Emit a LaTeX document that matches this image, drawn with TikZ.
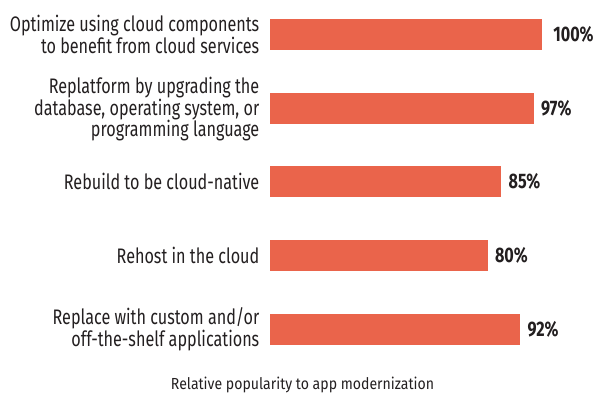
\documentclass[tikz,border=0pt]{standalone}
\usepackage{fontspec}
\setmainfont{Fira Sans}[FakeStretch=0.77]
\newfontfamily\capfont{Fira Sans}[FakeStretch=0.88]
\definecolor{barfill}{HTML}{EA644B}
\definecolor{ink}{HTML}{231F20}
\begin{document}
\begin{tikzpicture}[x=1pt,y=-1pt,
  bar/.style={fill=barfill, draw=none, inner sep=0pt, minimum height=31pt, anchor=west},
  cat/.style={anchor=east, align=right, text=ink, inner sep=0pt,
              font=\fontsize{21}{21.5}\selectfont},
  val/.style={anchor=west, text=ink, inner sep=0pt,
              font=\bfseries\fontsize{21}{21}\selectfont},
  caption/.style={text=ink, inner sep=0pt, font=\capfont\fontsize{16}{18}\selectfont}]
\useasboundingbox (0,0) rectangle (597,405);

% one bar per approach; 2.717pt per percent
\node[bar, minimum width=271.7pt] (b1) at (270,34.5) {};
\node[bar, minimum width=263.5pt] (b2) at (270,108.7) {};
\node[bar, minimum width=231.0pt] (b3) at (270,181.3) {};
\node[bar, minimum width=217.4pt] (b4) at (270,255.3) {};
\node[bar, minimum width=250.0pt] (b5) at (270,329.3) {};

% approach names
\node[cat] (c1) at (259.5,34.5) {Optimize using cloud components\\to benefit from cloud services};
\node[cat] (c2) at (259.5,109.5) {Replatform by upgrading the\\database, operating system, or\\programming language};
\node[cat] (c3) at (259.5,181.3) {Rebuild to be cloud-native};
\node[cat] (c4) at (259.5,255.3) {Rehost in the cloud};
\node[cat] (c5) at (259.5,329.5) {Replace with custom and/or\\off-the-shelf applications};

% values
\node[val, xshift=11pt] (v1) at (b1.east) {100\%};
\node[val, xshift=7pt] (v2) at (b2.east) {97\%};
\node[val, xshift=7pt] (v3) at (b3.east) {85\%};
\node[val, xshift=7pt] (v4) at (b4.east) {80\%};
\node[val, xshift=7pt] (v5) at (b5.east) {92\%};

% axis caption
\node[caption] (cap) at (302.5,385) {Relative popularity to app modernization};
\end{tikzpicture}
\end{document}
